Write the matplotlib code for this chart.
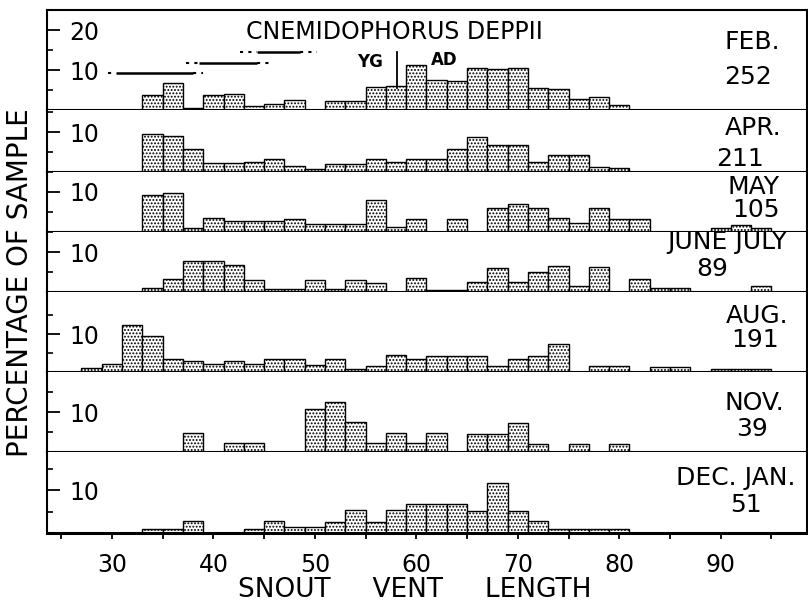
import matplotlib
matplotlib.use("Agg")
import matplotlib.pyplot as plt

plt.rcParams['font.family'] = 'DejaVu Sans'
plt.rcParams['hatch.linewidth'] = 0.9

# bin centres (snout-vent length, mm), 2 mm bins
centres = [28, 30, 32, 34, 36, 38, 40, 42, 44, 46, 48, 50, 52, 54, 56, 58, 60,
           62, 64, 66, 68, 70, 72, 74, 76, 78, 80, 82, 84, 86, 88, 90, 92, 94]

# percentage of sample per bin
feb = [0, 0, 0, 3.8, 6.7, 0.6, 3.8, 4.0, 1.0, 1.5, 2.4, 0, 2.3, 2.3, 5.8, 6.0, 11.3,
       7.5, 7.3, 10.4, 10.3, 10.4, 5.5, 5.3, 2.8, 3.3, 1.3, 0, 0, 0, 0, 0, 0, 0]
apr = [0, 0, 0, 9.4, 8.9, 5.8, 2.2, 2.2, 2.5, 3.3, 1.4, 0.8, 2.1, 2.1, 3.3, 2.5, 3.3,
       3.3, 5.8, 8.8, 6.7, 6.7, 2.5, 4.2, 4.2, 1.2, 1.0, 0, 0, 0, 0, 0, 0, 0]
may = [0, 0, 0, 9.2, 9.7, 0.9, 3.6, 2.7, 2.7, 2.7, 3.2, 1.9, 1.9, 1.9, 7.9, 1.2, 3.2,
       0, 3.2, 0, 6.1, 7.1, 6.1, 3.6, 2.3, 6.1, 3.2, 3.2, 0, 0, 0, 0.9, 1.7, 0.9]
junejuly = [0, 0, 0, 1.0, 3.3, 7.7, 7.7, 6.7, 3.0, 0.7, 0.7, 3.0, 0.7, 3.0, 2.2, 0, 3.6,
            0.6, 0.6, 2.4, 6.1, 2.4, 5.0, 6.5, 1.6, 6.3, 0, 3.3, 1.1, 1.1, 0, 0, 0, 1.5]
aug = [1.0, 2.2, 12.4, 9.6, 3.3, 2.8, 2.2, 2.8, 2.2, 3.3, 3.3, 1.9, 3.3, 0.7, 1.6, 4.4, 3.3,
       4.2, 4.2, 4.2, 1.6, 3.3, 4.2, 7.5, 0, 1.7, 1.5, 0, 1.3, 1.3, 0, 0.7, 0.9, 0.7]
nov = [0, 0, 0, 0, 0, 4.8, 0, 2.3, 2.3, 0, 0, 10.7, 12.5, 7.5, 2.3, 4.8, 2.3,
       4.8, 0, 4.6, 4.6, 7.3, 2.1, 0, 2.1, 0, 2.1, 0, 0, 0, 0, 0, 0, 0]
decjan = [0, 0, 0, 1.0, 0.9, 2.8, 0, 0, 1.0, 2.7, 1.3, 1.3, 2.6, 5.3, 2.6, 5.3, 6.9,
          6.9, 6.9, 5.2, 11.8, 5.2, 2.8, 0.9, 0.9, 0.9, 0.9, 0, 0, 0, 0, 0, 0, 0]

months = ['FEB.', 'APR.', 'MAY', 'JUNE JULY', 'AUG.', 'NOV.', 'DEC. JAN.']
sizes = ['252', '211', '105', '89', '191', '39', '51']
series = [feb, apr, may, junejuly, aug, nov, decjan]

# size-class ranges drawn in the Feb panel: (level, dotted from, solid from, solid to, dotted to)
ranges = [(9.2, 29.6, 30.4, 38.0, 39.0),
          (11.8, 37.3, 38.6, 44.3, 45.5),
          (14.6, 42.6, 44.3, 48.5, 50.2)]
yg_ad_split = 58.1

# layout in pixels
W, H = 808, 608
left_px, right_px = 47, 807
panels_px = [(10, 110), (110, 172), (172, 232), (232, 292), (292, 372), (372, 452), (452, 533)]
px_per_unit = [4.0, 4.0, 4.0, 4.1, 3.8, 4.0, 4.27]
month_pos = [(752, 42), (753, 128), (753, 187), (727, 242), (757, 316), (754, 403), (736, 478)]
size_pos = [(748, 77), (740, 159), (756, 210), (712, 269), (755, 340), (752, 429), (746, 505)]
xmin, xmax = 23.6, 98.5

fig = plt.figure(figsize=(W / 100, H / 100), dpi=100)

axes = []
for i, vals in enumerate(series):
    top, bot = panels_px[i]
    ax = fig.add_axes([left_px / W, 1 - bot / H, (right_px - left_px) / W, (bot - top) / H])
    xs = [c for c, v in zip(centres, vals) if v > 0]
    hs = [v for v in vals if v > 0]
    ax.bar(xs, hs, width=2, color='white', edgecolor='black', hatch='.....',
           linewidth=1.0, zorder=2)
    ax.set_xlim(xmin, xmax)
    ax.set_ylim(0, (bot - top) / px_per_unit[i])
    for s in ['left', 'bottom', 'right']:
        ax.spines[s].set_linewidth(1.5)
    ax.spines['top'].set_visible(i == 0)
    ax.spines['top'].set_linewidth(1.5)
    majors = [10, 20] if i == 0 else [10]
    minors = [5, 15]
    ax.set_yticks(majors, [str(t) for t in majors], ha='left')
    ax.set_yticks(minors, minor=True)
    ax.tick_params(axis='y', which='major', direction='in', length=9, width=1.3,
                   pad=-16, labelsize=17)
    ax.tick_params(axis='y', which='minor', direction='in', length=4.5, width=1.2)
    if i < len(series) - 1:
        ax.tick_params(axis='x', which='both', bottom=False, labelbottom=False)
    axes.append(ax)
    fig.text(month_pos[i][0] / W, 1 - month_pos[i][1] / H, months[i],
             fontsize=18, ha='center', va='center')
    fig.text(size_pos[i][0] / W, 1 - size_pos[i][1] / H, sizes[i],
             fontsize=18, ha='center', va='center')

# bottom axis
axb = axes[-1]
axb.spines['bottom'].set_linewidth(2.2)
axb.set_xticks([30, 40, 50, 60, 70, 80, 90])
axb.set_xticks([25, 35, 45, 55, 65, 75, 85, 95], minor=True)
axb.tick_params(axis='x', which='both', direction='out', length=4.5, width=1.3,
                pad=10, labelsize=17)

# Feb panel annotations
axf = axes[0]
axf.text(57.8, 19.6, 'CNEMIDOPHORUS DEPPII', fontsize=17, ha='center', va='center')
axf.text(55.4, 12.0, 'YG', fontsize=12, fontweight='bold', ha='center', va='center')
axf.text(62.7, 12.5, 'AD', fontsize=12, fontweight='bold', ha='center', va='center')
axf.plot([yg_ad_split, yg_ad_split], [5.5, 14.6], color='black', linewidth=1.3)
for lev, d0, s0, s1, d1 in ranges:
    axf.plot([s0, s1], [lev, lev], color='black', linewidth=1.8, solid_capstyle='butt')
    axf.plot([d0, s0], [lev, lev], color='black', linewidth=1.5, linestyle=(0, (1.5, 2.5)))
    axf.plot([s1, d1], [lev, lev], color='black', linewidth=1.5, linestyle=(0, (1.5, 2.5)))

fig.text(20 / W, 1 - 283 / H, 'PERCENTAGE OF SAMPLE', rotation=90, fontsize=20,
         ha='center', va='center')
fig.text(415 / W, 1 - 590 / H, 'SNOUT     VENT     LENGTH', fontsize=19,
         ha='center', va='center')

fig.savefig('out.png', dpi=100)
